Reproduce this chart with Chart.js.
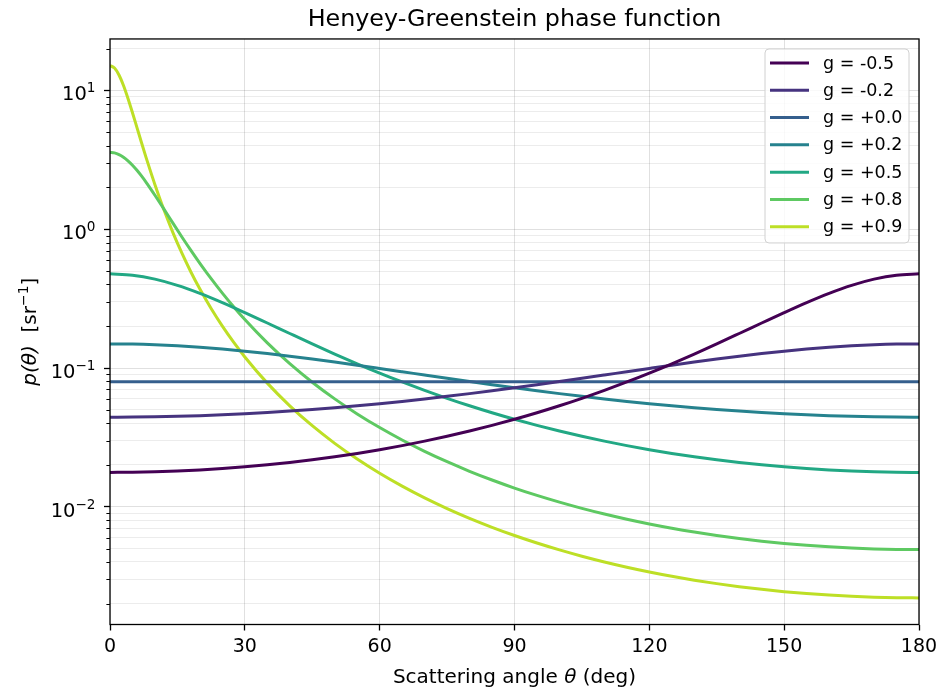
<!DOCTYPE html>
<html>
<head>
<meta charset="utf-8">
<script src="https://cdn.jsdelivr.net/npm/chart.js@4.4.1/dist/chart.umd.min.js"></script>
<style>
html,body{margin:0;padding:0;background:#fff;}
canvas{display:block;}
</style>
</head>
<body>
<canvas id="c" width="938" height="687"></canvas>
<script>
// ---------- data ----------
const thetaFine = [0,1,2,3,4,5,6,7,8,9,10,12,14,16,18,20,22.5,25,27.5,30,35,40,45,50,55,60,65,70,75,80,85,90,95,100,105,110,115,120,125,130,135,140,145,150,155,160,165,170,175,180];
const theta = [0,5,10,15,20,25,30,35,40,45,50,55,60,65,70,75,80,85,90,95,100,105,110,115,120,125,130,135,140,145,150,155,160,165,170,175,180];

const seriesLabels = ['g = -0.5','g = -0.2','g = +0.0','g = +0.2','g = +0.5','g = +0.8','g = +0.9'];
const seriesColors = ['#440154','#46337f','#355f8d','#26828e','#22a884','#5ec962','#bddf26'];

const pGm05 = [0.01768,0.01773,0.01786,0.01809,0.01842,0.01885,0.01939,0.02005,0.02085,0.02180,0.02292,0.02424,0.02578,0.02759,0.02971,0.03220,0.03514,0.03860,0.04271,0.04760,0.05345,0.06048,0.06898,0.07931,0.09189,0.1073,0.1261,0.1492,0.1773,0.2110,0.2508,0.2962,0.3453,0.3942,0.4370,0.4668,0.4775];
const pGm02 = [0.04421,0.04428,0.04449,0.04485,0.04534,0.04599,0.04680,0.04776,0.04890,0.05021,0.05171,0.05341,0.05533,0.05746,0.05984,0.06247,0.06537,0.06856,0.07203,0.07581,0.07990,0.08430,0.08900,0.09399,0.09923,0.1047,0.1103,0.1160,0.1216,0.1271,0.1323,0.1370,0.1412,0.1446,0.1471,0.1487,0.1492];
const pG00 = [0.07958,0.07958,0.07958,0.07958,0.07958,0.07958,0.07958,0.07958,0.07958,0.07958,0.07958,0.07958,0.07958,0.07958,0.07958,0.07958,0.07958,0.07958,0.07958,0.07958,0.07958,0.07958,0.07958,0.07958,0.07958,0.07958,0.07958,0.07958,0.07958,0.07958,0.07958,0.07958,0.07958,0.07958,0.07958,0.07958,0.07958];
const pG02 = [0.1492,0.1487,0.1471,0.1446,0.1412,0.1370,0.1323,0.1271,0.1216,0.1160,0.1103,0.1047,0.09923,0.09399,0.08900,0.08430,0.07990,0.07581,0.07203,0.06856,0.06537,0.06247,0.05984,0.05746,0.05533,0.05341,0.05171,0.05021,0.04890,0.04776,0.04680,0.04599,0.04534,0.04485,0.04449,0.04428,0.04421];
const pG05 = [0.4775,0.4668,0.4370,0.3942,0.3453,0.2962,0.2508,0.2110,0.1773,0.1492,0.1261,0.1073,0.09189,0.07931,0.06898,0.06048,0.05345,0.04760,0.04271,0.03860,0.03514,0.03220,0.02971,0.02759,0.02578,0.02424,0.02292,0.02180,0.02085,0.02005,0.01939,0.01885,0.01842,0.01809,0.01786,0.01773,0.01768];
const pG08 = [3.581,3.549,3.454,3.306,3.115,2.895,2.660,2.421,2.187,1.964,1.757,1.396,1.106,0.8797,0.7040,0.5681,0.4402,0.3462,0.2762,0.2233,0.1516,0.1074,0.07898,0.05990,0.04667,0.03721,0.03028,0.02508,0.02111,0.01802,0.01559,0.01364,0.01207,0.01079,0.009731,0.008856,0.008127,0.007516,0.007003,0.006572,0.006209,0.005905,0.005652,0.005443,0.005274,0.005140,0.005039,0.004968,0.004926,0.004912];
const pG09 = [15.12,14.52,12.94,10.86,8.764,6.913,5.402,4.219,3.312,2.622,2.095,1.380,0.9456,0.6716,0.4921,0.3704,0.2682,0.2002,0.1534,0.1201,0.07780,0.05341,0.03840,0.02865,0.02205,0.01742,0.01407,0.01158,0.009703,0.008251,0.007114,0.006209,0.005481,0.004889,0.004404,0.004002,0.003668,0.003389,0.003155,0.002958,0.002793,0.002655,0.002540,0.002445,0.002369,0.002308,0.002262,0.002230,0.002211,0.002204];

const xTickValues = [0,30,60,90,120,150,180];
const yDecadeValues = [0.01,0.1,1,10];
const yDecadeExponents = ['\u22122','\u22121','0','1'];
const Y_MIN = 0.0014173;
const Y_MAX = 23.516;

// ---------- helpers ----------
const FONT = "'DejaVu Sans', 'Liberation Sans', sans-serif";
const isDecade = v => Math.abs(Math.log10(v) - Math.round(Math.log10(v))) < 1e-9;
const yMinor = [];
for (let e = -3; e <= 1; e++) {
  for (let m = 2; m <= 9; m++) {
    const v = m * Math.pow(10, e);
    if (v >= Y_MIN && v <= Y_MAX) yMinor.push(v);
  }
}
const yAllTicks = yDecadeValues.concat(yMinor).sort((a,b)=>a-b);

const seriesX = [theta, theta, theta, theta, theta, thetaFine, thetaFine];
const seriesY = [pGm05, pGm02, pG00, pG02, pG05, pG08, pG09];

const datasets = seriesY.map((ys, i) => ({
  label: seriesLabels[i],
  data: seriesX[i].map((t, j) => ({x: t, y: ys[j]})),
  borderColor: seriesColors[i],
  backgroundColor: seriesColors[i],
  borderWidth: 3,
  pointRadius: 0,
  fill: false,
  cubicInterpolationMode: 'monotone',
  borderCapStyle: 'butt',
  borderJoinStyle: 'round'
}));

// draw a run of [text, font, dy] segments starting at x along baseline y
function drawRuns(ctx, runs, x, y) {
  let cx = x;
  runs.forEach(([t, f, dy]) => {
    ctx.font = f;
    ctx.fillText(t, cx, y + dy);
    cx += ctx.measureText(t).width;
  });
}
function runsWidth(ctx, runs) {
  let w = 0;
  runs.forEach(([t, f]) => { ctx.font = f; w += ctx.measureText(t).width; });
  return w;
}

const decorPlugin = {
  id: 'decor',
  afterDraw(chart) {
    const {ctx, chartArea: a} = chart;
    const ys = chart.scales.y;
    ctx.save();
    // frame
    ctx.strokeStyle = '#000';
    ctx.lineWidth = 1.3;
    ctx.strokeRect(a.left, a.top, a.right - a.left, a.bottom - a.top);
    // minor y ticks
    ctx.lineWidth = 1;
    yMinor.forEach(v => {
      const py = Math.round(ys.getPixelForValue(v)) + 0.5;
      ctx.beginPath();
      ctx.moveTo(a.left - 3.6, py);
      ctx.lineTo(a.left, py);
      ctx.stroke();
    });

    ctx.fillStyle = '#000';
    ctx.textBaseline = 'alphabetic';
    ctx.textAlign = 'left';
    // y decade tick labels (10 with superscript exponent)
    const fMain = '19.5px ' + FONT, fSup = '13.6px ' + FONT;
    yDecadeValues.forEach((v, k) => {
      const py = ys.getPixelForValue(v);
      const runs = [['10', fMain, 0], [yDecadeExponents[k], fSup, -8]];
      const w = runsWidth(ctx, runs);
      drawRuns(ctx, runs, a.left - 14.5 - w, py + 10);
    });

    // x axis title
    const fLab = '20px ' + FONT, fLabI = 'italic 20px ' + FONT, fLabS = '14px ' + FONT;
    const xRuns = [['Scattering angle ', fLab, 0], ['\u03B8', fLabI, 0], [' (deg)', fLab, 0]];
    const xw = runsWidth(ctx, xRuns);
    drawRuns(ctx, xRuns, (a.left + a.right) / 2 - xw / 2, 683);

    // y axis title (rotated)
    const yRuns = [['p(\u03B8)', fLabI, 0], ['  [sr', fLab, 0], ['\u22121', fLabS, -8], [']', fLab, 0]];
    const yw = runsWidth(ctx, yRuns);
    ctx.save();
    ctx.translate(36, (a.top + a.bottom) / 2);
    ctx.rotate(-Math.PI / 2);
    drawRuns(ctx, yRuns, -yw / 2, 0);
    ctx.restore();

    // legend box
    const bw = 144, bh = 194;
    const bx = a.right - 10 - bw, by = a.top + 10;
    const r = 4;
    ctx.beginPath();
    ctx.moveTo(bx + r, by);
    ctx.lineTo(bx + bw - r, by);
    ctx.quadraticCurveTo(bx + bw, by, bx + bw, by + r);
    ctx.lineTo(bx + bw, by + bh - r);
    ctx.quadraticCurveTo(bx + bw, by + bh, bx + bw - r, by + bh);
    ctx.lineTo(bx + r, by + bh);
    ctx.quadraticCurveTo(bx, by + bh, bx, by + bh - r);
    ctx.lineTo(bx, by + r);
    ctx.quadraticCurveTo(bx, by, bx + r, by);
    ctx.closePath();
    ctx.fillStyle = 'rgba(255,255,255,0.8)';
    ctx.fill();
    ctx.strokeStyle = '#d0d0d0';
    ctx.lineWidth = 1;
    ctx.stroke();
    ctx.font = '17.5px ' + FONT;
    ctx.textBaseline = 'middle';
    ctx.textAlign = 'left';
    chart.data.datasets.forEach((ds, i) => {
      const cy = by + 14 + i * 27.3;
      ctx.strokeStyle = ds.borderColor;
      ctx.lineWidth = 3;
      ctx.beginPath();
      ctx.moveTo(bx + 5, cy);
      ctx.lineTo(bx + 44, cy);
      ctx.stroke();
      ctx.fillStyle = '#000';
      ctx.fillText(ds.label, bx + 58, cy + 1);
    });
    ctx.restore();
  }
};

new Chart(document.getElementById('c').getContext('2d'), {
  type: 'line',
  data: {datasets},
  options: {
    responsive: false,
    animation: false,
    events: [],
    layout: {padding: {left: 0, right: 19, top: 0, bottom: 0}},
    plugins: {
      legend: {display: false},
      tooltip: {enabled: false},
      title: {
        display: true,
        fullSize: false,
        text: 'Henyey-Greenstein phase function',
        color: '#000',
        font: {family: FONT, size: 23.8, weight: 'normal', lineHeight: 1.2},
        padding: {top: 6, bottom: 4.4}
      }
    },
    scales: {
      x: {
        type: 'linear',
        min: 0, max: 180,
        afterBuildTicks(s) { s.ticks = xTickValues.map(v => ({value: v})); },
        ticks: {color: '#000', font: {family: FONT, size: 19}, padding: 5.5, maxRotation: 0, autoSkip: false},
        grid: {color: 'rgba(0,0,0,0.12)', lineWidth: 1, tickLength: 6, tickColor: '#000', tickWidth: 1.3},
        border: {display: false},
        title: {display: false},
        afterFit(s) { s.height = 62.5; s.paddingLeft = 0; s.paddingRight = 0; }
      },
      y: {
        type: 'logarithmic',
        min: Y_MIN, max: Y_MAX,
        afterBuildTicks(s) { s.ticks = yAllTicks.map(v => ({value: v, major: isDecade(v)})); },
        ticks: {autoSkip: false, display: true, color: 'rgba(0,0,0,0)', font: {family: FONT, size: 1}, callback() { return ''; }},
        grid: {
          color: c => (c.tick && isDecade(c.tick.value)) ? 'rgba(0,0,0,0.12)' : 'rgba(0,0,0,0.075)',
          lineWidth: 1,
          tickLength: 6,
          tickColor: c => (c.tick && isDecade(c.tick.value)) ? '#000' : 'rgba(0,0,0,0)',
          tickWidth: 1.3
        },
        border: {display: false},
        title: {display: false},
        afterFit(s) { s.width = 110; s.paddingTop = 0; s.paddingBottom = 0; }
      }
    }
  },
  plugins: [decorPlugin]
});
</script>
</body>
</html>
